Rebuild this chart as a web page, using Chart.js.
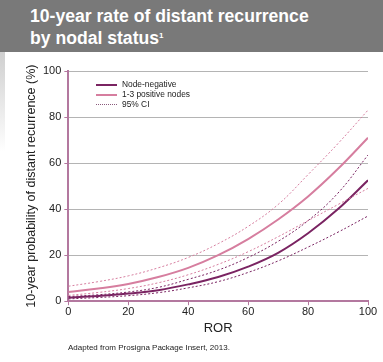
<!DOCTYPE html>
<html lang="en">
<head>
  <meta charset="UTF-8">
  <title>10-year rate of distant recurrence by nodal status</title>
  <script src="https://cdn.jsdelivr.net/npm/chart.js"></script>
  <style>
    html, body { margin: 0; padding: 0; background: #fff; }
    body { width: 383px; height: 362px; position: relative; overflow: hidden; font-family: "Liberation Sans", Arial, sans-serif; }
    .header { position: absolute; left: 0; top: 0; width: 383px; height: 52px; background: #797979; }
    .header h1 { margin: 0; position: absolute; left: 30px; top: 5px; color: #fff; font-size: 17.6px; line-height: 22px; font-weight: bold; }
    .header sup { font-size: 8px; vertical-align: top; position: relative; top: -2px; }
    .shade { position: absolute; left: 0; top: 52px; width: 5px; height: 100px; background: linear-gradient(to bottom, #cfcfcf, #fff); }
    canvas { position: absolute; left: 0; top: 0; }
    .legend { position: absolute; left: 96px; top: 79px; font-size: 8.4px; color: #222; }
    .legend div { height: 10px; line-height: 10px; position: relative; padding-left: 26px; }
    .legend span { position: absolute; left: 0; top: 5px; width: 21px; }
    .note { position: absolute; left: 68px; top: 343px; font-size: 8px; color: #222; }
  </style>
</head>
<body>
  <div class="header"><h1>10-year rate of distant recurrence<br>by nodal status<sup>1</sup></h1></div>
  <div class="shade"></div>
  <canvas id="chart" width="383" height="362"></canvas>
  <div class="legend">
    <div><span style="border-top:2px solid #7a2462"></span>Node-negative</div>
    <div><span style="border-top:2px solid #d67e9f"></span>1-3 positive nodes</div>
    <div><span style="border-top:1px dotted #8a5a7c"></span>95% CI</div>
  </div>
  <div class="note">Adapted from Prosigna Package Insert, 2013.</div>

  <script>
    const ror = [0, 10, 20, 30, 40, 50, 60, 70, 80, 90, 100];
    const nodeNeg = [1.5, 2.3, 3.3, 4.8, 7.3, 10.5, 15, 21, 29.5, 40, 52.5];
    const nodeNegUpper = [2, 2.8, 4, 6, 9.5, 13.5, 19, 26, 35, 47, 63.5];
    const nodeNegLower = [1, 1.6, 2.4, 3.7, 5.8, 8.5, 12.5, 17.5, 23.5, 30, 37];
    const nodePos = [4, 5.5, 7.5, 10.5, 14.5, 20, 27, 35.5, 45.5, 57.5, 71];
    const nodePosUpper = [6.5, 8.5, 11, 14.5, 19, 25, 32.5, 42, 55, 68.5, 83];
    const nodePosLower = [2.5, 3.8, 5.5, 8, 11.5, 16, 21.5, 28, 35, 42, 49];
    const yTicks = [0, 20, 40, 60, 80, 100];

    const darkCol = '#7a2462';
    const pinkCol = '#d67e9f';
    const axisCol = '#b3789f';

    function series(data, color, dotted, width) {
      return {
        data: ror.map((x, i) => ({ x: x, y: data[i] })),
        borderColor: color,
        borderWidth: width,
        borderDash: dotted ? [2, 2] : [],
        pointRadius: 0,
        tension: 0.4,
        fill: false
      };
    }

    new Chart(document.getElementById('chart'), {
      type: 'line',
      data: {
        datasets: [
          series(nodePosUpper, pinkCol, true, 1),
          series(nodePosLower, pinkCol, true, 1),
          series(nodeNegUpper, darkCol, true, 1),
          series(nodeNegLower, darkCol, true, 1),
          series(nodePos, pinkCol, false, 2),
          series(nodeNeg, darkCol, false, 2)
        ]
      },
      options: {
        responsive: false,
        animation: false,
        layout: { padding: { top: 71, right: 15, bottom: 26, left: 24 } },
        plugins: { legend: { display: false }, tooltip: { enabled: false } },
        scales: {
          x: {
            type: 'linear',
            min: 0, max: 100,
            afterBuildTicks: axis => { axis.ticks = yTicks.map(v => ({ value: v })); },
            grid: { drawOnChartArea: false, tickColor: axisCol, tickLength: 4 },
            border: { color: axisCol, width: 2 },
            ticks: { color: '#222', font: { family: 'Liberation Sans', size: 11 }, padding: 0, maxRotation: 0 },
            title: { display: true, text: 'ROR', color: '#222', font: { family: 'Liberation Sans', size: 13 }, padding: { top: 2, bottom: 0 } }
          },
          y: {
            min: 0, max: 100,
            afterBuildTicks: axis => { axis.ticks = yTicks.map(v => ({ value: v })); },
            grid: { color: '#b4b4b4', tickColor: axisCol, tickLength: 4 },
            border: { color: axisCol, width: 2 },
            ticks: { color: '#222', font: { family: 'Liberation Sans', size: 11 }, padding: 3 },
            title: { display: true, text: '10-year probability of distant recurrence (%)', color: '#222', font: { family: 'Liberation Sans', size: 12.5 }, padding: { top: 0, bottom: 1 } }
          }
        }
      }
    });
  </script>
</body>
</html>
